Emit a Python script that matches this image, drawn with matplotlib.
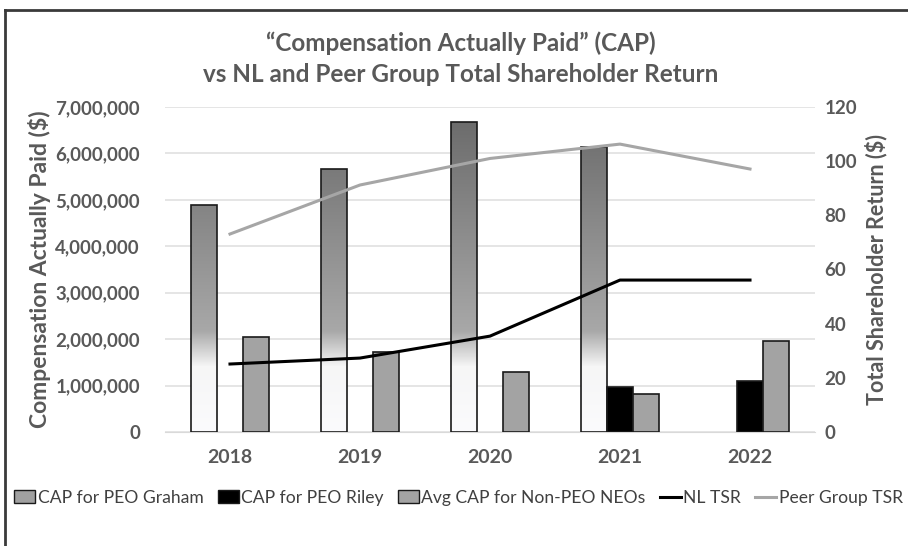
import numpy as np
import matplotlib
matplotlib.use('Agg')
import matplotlib.pyplot as plt
from matplotlib.colors import LinearSegmentedColormap
from matplotlib.patches import Patch
from matplotlib.lines import Line2D

plt.rcParams['font.family'] = ['Lato', 'DejaVu Sans']

years = ['2018', '2019', '2020', '2021', '2022']
cap_graham = [4900000, 5670000, 6680000, 6140000, 0]
cap_riley = [0, 0, 0, 970000, 1100000]
cap_neos = [2050000, 1720000, 1290000, 820000, 1960000]
nl_tsr = [25.1, 27.3, 35.4, 56.1, 56.1]
peer_tsr = [73.1, 91.2, 101.0, 106.3, 97.1]

txt = '#595959'
x = np.arange(len(years))
w = 0.2

fig = plt.figure(figsize=(9.08, 5.46), dpi=100)
ax = fig.add_axes([165/908, 1-432/546, 650/908, 325/546])
ax2 = ax.twinx()

# gradient for Graham bars (white at bottom -> dark gray at top of axis)
grad = LinearSegmentedColormap.from_list('g', [(0, '#fbfbfd'), (0.2, '#f6f6f6'),
                                               (0.31, '#a8a8a8'), (1.0, '#686868')])


def draw_bars(vals, offset, color):
    bars = ax.bar(x + offset, vals, w, color=color, edgecolor='#1a1a1a', lw=1.2, zorder=3)
    for b, v in zip(bars, vals):
        if v <= 0:
            b.set_visible(False)
    return bars


gb = draw_bars(cap_graham, -w, 'none')
for b, v in zip(gb, cap_graham):
    if v <= 0:
        continue
    x0 = b.get_x()
    im = ax.imshow(np.linspace(0, 1, 256).reshape(-1, 1), cmap=grad, origin='lower',
                   extent=(x0, x0 + b.get_width(), 0, 7000000), aspect='auto', zorder=2)
    im.set_clip_path(b)
draw_bars(cap_riley, 0, 'black')
draw_bars(cap_neos, w, '#a3a3a3')

ax.set_xlim(-0.5, 4.5)
ax.set_ylim(0, 7000000)
ax.set_yticks(np.arange(0, 7000001, 1000000))
ax.set_yticklabels([f'{v:,}' for v in range(0, 7000001, 1000000)])
ax.set_xticks(x)
ax.set_xticklabels(years)
ax.grid(axis='y', color='#e3e3e3', lw=1.3, zorder=0)
ax.set_axisbelow(True)

ax2.plot(x, nl_tsr, color='black', lw=2.2, zorder=4)
ax2.plot(x, peer_tsr, color='#a6a6a6', lw=2.2, zorder=4)
ax2.set_ylim(0, 120)
ax2.set_yticks(np.arange(0, 121, 20))

for a in (ax, ax2):
    for s in a.spines.values():
        s.set_visible(False)
    a.tick_params(length=0, labelsize=13.5, labelcolor=txt)
    for t in a.get_xticklabels() + a.get_yticklabels():
        t.set_fontweight('bold')
ax.spines['bottom'].set_visible(True)
ax.spines['bottom'].set_color('#d9d9d9')
ax.tick_params(axis='y', pad=18)
ax.tick_params(axis='x', pad=12, labelsize=14)
ax2.tick_params(axis='y', pad=7)

ax.set_ylabel('Compensation Actually Paid ($)', fontsize=16.5, fontweight='bold', color=txt, labelpad=3)
ax2.set_ylabel('Total Shareholder Return ($)', fontsize=15.5, fontweight='bold', color=txt, labelpad=5)

fig.text(461/908, 1-43/546, '\u201cCompensation Actually Paid\u201d (CAP)', ha='center', va='center',
         fontsize=17.5, fontweight='bold', color=txt)
fig.text(461/908, 1-75/546, 'vs NL and Peer Group Total Shareholder Return', ha='center', va='center',
         fontsize=17.5, fontweight='bold', color=txt)

handles = [Patch(facecolor='#a0a0a0', edgecolor='#1a1a1a'),
           Patch(facecolor='black', edgecolor='#1a1a1a'),
           Patch(facecolor='#a3a3a3', edgecolor='#1a1a1a'),
           Line2D([], [], color='black', lw=2.2),
           Line2D([], [], color='#a6a6a6', lw=2.2)]
labels = ['CAP for PEO Graham', 'CAP for PEO Riley', 'Avg CAP for Non-PEO NEOs', 'NL TSR', 'Peer Group TSR']
fig.legend(handles, labels, loc='center left', bbox_to_anchor=(2/908, 1-498/546), ncol=5,
           frameon=False, fontsize=12.6, handlelength=1.2, handleheight=0.75, handletextpad=0.15,
           columnspacing=0.8, borderpad=0.2, labelcolor='#404040')

# chart frame (cut off at right and bottom)
fig.add_artist(Line2D([5/908, 1.0], [1-10/546, 1-10/546], color='#3a3a3a', lw=2))
fig.add_artist(Line2D([5/908, 5/908], [0, 1-10/546], color='#3a3a3a', lw=2))

fig.savefig('out.png', dpi=100, facecolor='white')
